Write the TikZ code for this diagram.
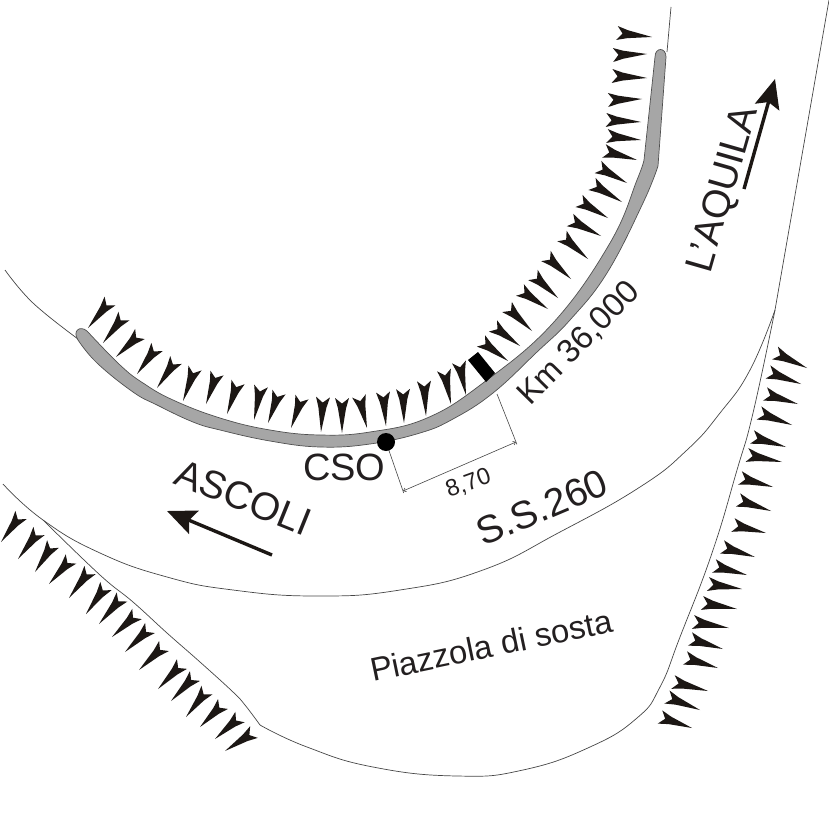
\documentclass[tikz,border=0pt]{standalone}
\usepackage{fontspec}
\setmainfont{Liberation Sans}
\usetikzlibrary{arrows.meta, calc}
\definecolor{spikeblack}{RGB}{28,23,20}
\definecolor{roadgray}{RGB}{166,166,166}
\definecolor{roadedge}{RGB}{80,80,80}
\definecolor{thinline}{RGB}{70,70,70}
\definecolor{labelblack}{RGB}{35,31,32}
\tikzstyle{edgeline} = [draw=thinline, line width=0.7pt]
\tikzstyle{dimline} = [draw=thinline, line width=0.6pt]
\tikzstyle{roadband} = [draw=roadedge, fill=roadgray, line width=0.7pt, line join=round]
\tikzstyle{dirarrow} = [draw=spikeblack, line width=3.4pt, -{Stealth[length=29pt, width=25pt, inset=5pt]}]
\tikzstyle{biglabel} = [inner sep=0pt, anchor=base west, text=labelblack, font=\fontsize{39}{39}\selectfont]
\tikzstyle{midlabel} = [inner sep=0pt, anchor=base west, text=labelblack, font=\fontsize{32.8}{33}\selectfont]
\tikzstyle{smalllabel} = [inner sep=0pt, anchor=base west, text=labelblack, font=\fontsize{23.6}{24}\selectfont]

\begin{document}
\begin{tikzpicture}[x=1pt, y=-1pt]
\useasboundingbox (0,0) rectangle (829,832);

% Outer edges
\draw[edgeline] plot[smooth, tension=0.7] coordinates {(5,270) (33,303) (78,339)};
\draw[edgeline] (667,52) -- (671,7);
\draw[edgeline] plot[smooth, tension=0.8] coordinates {(3,484) (43,520) (100,553) (167,577) (233,590) (317,596) (400,590) (483,570) (560,532) (640,487) (687,450) (720,413) (750,370) (775,310)};
\draw[edgeline] plot[smooth, tension=0.7] coordinates {(43,520) (100,575) (133,602) (167,633) (200,662) (233,692) (245,705) (260,725)};
\draw[edgeline] plot[smooth, tension=0.8] coordinates {(260,725) (307,747) (373,767) (457,776) (523,770) (590,747) (637,718) (660,687) (680,637) (712,553) (737,470) (753,413) (775,310)} -- (829,0);

% Road band
\draw[roadband] plot[smooth, tension=0.7] coordinates {(87,331) (120,365) (143,383) (173,400) (220,418) (270,430) (320,435) (370,432) (427,418) (483,383) (553,323) (610,243) (637,180) (644,160)}
  -- (655,57) .. controls (655,47) and (666,47) .. (666,57) -- (658,166)
  -- plot[smooth, tension=0.7] coordinates {(658,166) (643,203) (607,273) (570,320) (537,352) (493,393) (453,419) (420,433) (370,444) (320,447) (270,441) (220,430) (193,422) (157,405) (133,392) (97,363) (78,340)}
  .. controls (72,331) and (80,325) .. (87,331) -- cycle;

% Spikes
\foreach \bx/\by/\tx/\ty in {
617/33/652/37, 613/55/647/54, 612/76/647/78, 608/100/642/99, 606/120/641/122, 607/136/641/140,
604/151/637/160, 598/167/627/183, 592/184/622/202, 579/201/608/218, 570/220/601/236, 562/236/588/259,
546/256/571/279, 533/275/558/298, 520/290/548/309, 507/307/532/331, 493/326/520/346, 481/341/508/361,
459/362/466/395, 444/370/451/404, 424/381/426/416, 403/389/404/423, 383/392/386/426, 359/396/367/428,
342/398/342/433, 323/397/321/432, 302/397/291/428, 279/392/268/423, 261/386/254/420, 238/382/227/414,
217/373/206/404, 195/368/183/401, 176/360/157/388, 157/347/137/374, 140/334/116/357, 124/316/103/343,
110/301/88/328,
775/353/807/368, 768/372/801/384, 765/394/798/404, 759/413/792/425, 752/437/786/447, 747/455/782/462,
740/478/773/487, 738/500/771/511, 733/525/766/533, 722/547/755/557, 714/566/747/575, 708/584/742/589,
702/603/737/609, 693/622/729/628, 690/639/723/649, 685/658/718/668, 673/682/708/691, 667/697/700/710,
660/717/692/728,
21/515/1/542, 39/531/18/559, 53/544/35/572, 71/559/49/584, 90/570/69/598, 106/586/86/614, 122/597/99/624,
137/614/112/637, 150/628/125/652, 164/646/139/670, 182/664/158/689, 195/676/171/701, 207/690/186/717,
223/704/200/727, 240/717/215/739, 254/732/225/751} {
  \coordinate (back) at (\bx,\by);
  \coordinate (tip) at (\tx,\ty);
  \coordinate (neck) at ($(back)!0.3!(tip)$);
  \fill[spikeblack] (tip) -- ($(neck)!4pt!90:(tip)$) -- ($(back)!7pt!90:(tip)$) -- ($(back)!0.16!(tip)$)
    -- ($(back)!7pt!-90:(tip)$) -- ($(neck)!4pt!-90:(tip)$) -- cycle;
}

% Black marker on the band
\fill[black] (468,360) -- (478,352) -- (495,373) -- (486,382) -- cycle;

% Dimension
\coordinate (dim_a) at (386,442);
\coordinate (dim_b) at (403,491);
\coordinate (dim_c) at (516,442);
\coordinate (dim_d) at (497,394);
\draw[dimline] (dim_a) -- ($(dim_a)!1.04!(dim_b)$);
\draw[dimline] (dim_d) -- ($(dim_d)!1.05!(dim_c)$);
\draw[dimline, {Straight Barb[length=2.5pt, width=4pt]}-{Straight Barb[length=2.5pt, width=4pt]}] (dim_b) -- (dim_c);
\node[smalllabel, rotate=20] (dim_label) at (449,498) {8,70};

% CSO point
\fill[black] (386,442) circle (9);
\node[biglabel, font=\fontsize{38}{38}\selectfont] (cso_label) at (303,480) {CSO};

% Direction arrows
\coordinate (ascoli_tail) at (272,555);
\coordinate (ascoli_tip) at (167,511);
\coordinate (aquila_tail) at (744,189);
\coordinate (aquila_tip) at (775,79);
\draw[dirarrow] (ascoli_tail) -- (ascoli_tip);
\draw[dirarrow] (aquila_tail) -- (aquila_tip);

% Labels
\node[biglabel, rotate=-22] (ascoli_label) at (172,483) {ASCOLI};
\node[biglabel, rotate=74] (aquila_label) at (710,275) {L’AQUILA};
\node[biglabel, rotate=23] (ss_label) at (483,547) {S.S.260};
\node[midlabel, rotate=45.5] (km_label) at (530,407) {Km 36,000};
\node[midlabel, rotate=11.8] (piazzola_label) at (373,682) {Piazzola di sosta};

\end{tikzpicture}
\end{document}
